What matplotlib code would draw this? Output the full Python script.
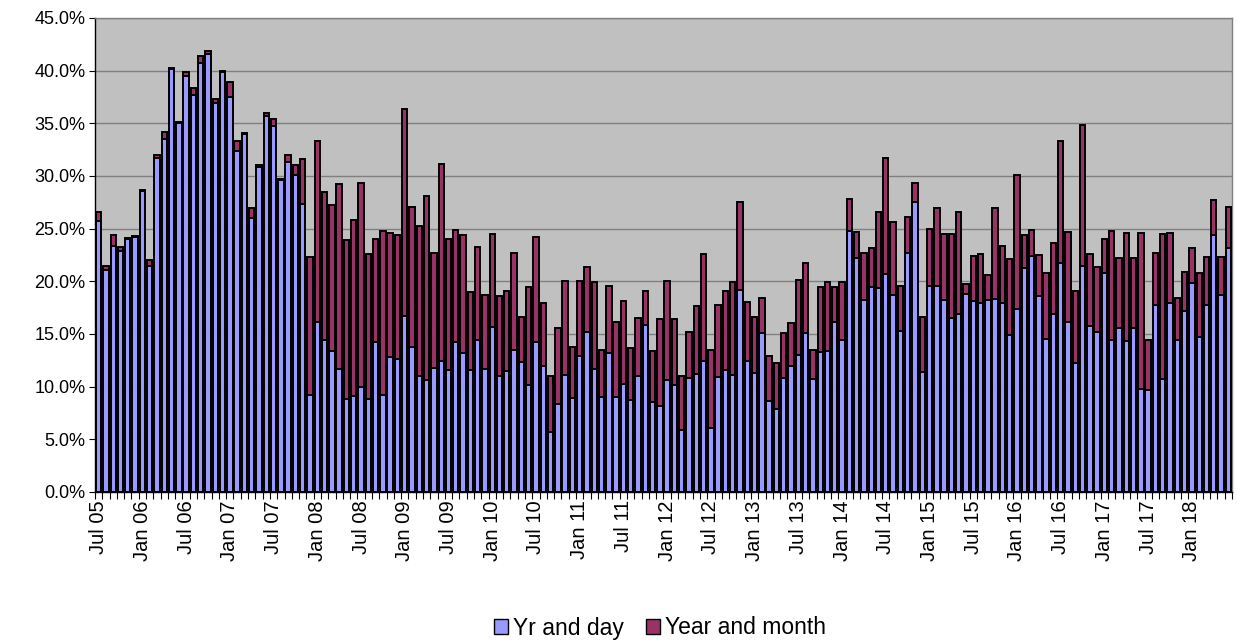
import matplotlib
matplotlib.use("Agg")
import matplotlib.pyplot as plt
from matplotlib.patches import Patch

plt.rcParams['font.family'] = ['Liberation Sans', 'DejaVu Sans']

# Monthly values, Jul 05 .. Jun 18 (percent)
yr_and_day = [
    25.7, 21.1, 23.4, 22.9, 24.0, 24.2, 28.6, 21.5, 31.7, 33.5, 40.2, 35.0,
    39.5, 37.7, 40.7, 41.6, 36.9, 39.9, 37.5, 32.4, 34.0, 26.0, 30.9, 35.7,
    34.7, 29.6, 31.3, 30.1, 27.3, 9.2, 16.1, 14.4, 13.4, 11.7, 8.8, 9.1,
    10.0, 8.8, 14.2, 9.2, 12.8, 12.6, 16.7, 13.8, 11.0, 10.6, 11.8, 12.4,
    11.6, 14.2, 13.2, 11.6, 14.4, 11.7, 15.7, 11.0, 11.5, 13.5, 12.3, 10.2,
    14.2, 12.0, 5.7, 8.4, 11.1, 8.9, 12.9, 15.2, 11.7, 9.0, 13.2, 9.0,
    10.3, 8.7, 11.0, 15.9, 8.5, 8.2, 10.6, 10.2, 5.9, 10.8, 11.2, 12.4,
    6.1, 10.9, 11.6, 11.1, 19.2, 12.4, 11.3, 15.1, 8.6, 7.9, 10.8, 12.0,
    13.0, 15.1, 10.7, 13.3, 13.4, 16.1, 14.4, 24.8, 22.2, 18.2, 19.5, 19.4,
    20.7, 18.7, 15.3, 22.7, 27.5, 11.4, 19.6, 19.6, 18.2, 16.5, 16.9, 18.8,
    18.1, 17.9, 18.2, 18.3, 17.9, 14.9, 17.4, 21.3, 22.4, 18.6, 14.5, 16.9,
    21.7, 16.1, 12.2, 21.5, 15.8, 15.2, 20.8, 14.4, 15.6, 14.3, 15.6, 9.8,
    9.7, 17.8, 10.7, 17.9, 14.4, 17.2, 19.8, 14.7, 17.8, 24.4, 18.7, 23.2,
]
total = [
    26.6, 21.5, 24.4, 23.3, 24.1, 24.3, 28.7, 22.0, 32.0, 34.2, 40.3, 35.1,
    39.9, 38.4, 41.4, 41.9, 37.3, 40.0, 38.9, 33.3, 34.1, 27.0, 31.0, 36.0,
    35.4, 29.7, 32.0, 31.0, 31.6, 22.3, 33.3, 28.5, 27.2, 29.2, 23.9, 25.8,
    29.3, 22.6, 24.0, 24.8, 24.6, 24.4, 36.4, 27.1, 25.3, 28.1, 22.7, 31.1,
    24.0, 24.9, 24.4, 19.0, 23.3, 18.7, 24.5, 18.6, 19.1, 22.7, 16.6, 19.5,
    24.2, 17.9, 11.0, 15.6, 20.0, 13.8, 20.0, 21.4, 19.9, 13.5, 19.6, 16.1,
    18.1, 13.7, 16.5, 19.1, 13.4, 16.4, 20.0, 16.4, 11.0, 15.2, 17.7, 22.6,
    13.5, 17.8, 19.1, 19.9, 27.5, 18.0, 16.6, 18.4, 12.9, 12.2, 15.1, 16.0,
    20.1, 21.7, 13.5, 19.5, 19.9, 19.5, 19.9, 27.8, 24.7, 22.7, 23.2, 26.6,
    31.7, 25.6, 19.6, 26.1, 29.3, 16.6, 25.0, 27.0, 24.5, 24.5, 26.6, 19.7,
    22.4, 22.6, 20.6, 27.0, 23.4, 22.1, 30.1, 24.4, 24.9, 22.5, 20.8, 23.6,
    33.3, 24.7, 19.1, 34.8, 22.6, 21.4, 24.0, 24.8, 22.2, 24.6, 22.2, 24.6,
    14.4, 22.7, 24.5, 24.6, 18.4, 20.9, 23.2, 20.8, 22.3, 27.7, 22.3, 27.1,
]
year_and_month = [round(t - b, 1) for t, b in zip(total, yr_and_day)]

tick_labels = [
    "Jul 05", "Jan 06", "Jul 06", "Jan 07", "Jul 07", "Jan 08", "Jul 08",
    "Jan 09", "Jul 09", "Jan 10", "Jul 10", "Jan 11", "Jul 11", "Jan 12",
    "Jul 12", "Jan 13", "Jul 13", "Jan 14", "Jul 14", "Jan 15", "Jul 15",
    "Jan 16", "Jul 16", "Jan 17", "Jul 17", "Jan 18",
]

BLUE = '#9999FF'
MAROON = '#993366'

W, H = 1238, 643
fig = plt.figure(figsize=(W / 100, H / 100), dpi=100)
ax = fig.add_axes([95 / W, 1 - 492 / H, (1232 - 95) / W, (492 - 18) / H])
ax.set_facecolor('#C0C0C0')

x = list(range(len(yr_and_day)))
ax.bar(x, yr_and_day, width=0.74, color=BLUE, edgecolor='black',
       linewidth=1.4, zorder=3)
ax.bar(x, year_and_month, bottom=yr_and_day, width=0.74, color=MAROON,
       edgecolor='black', linewidth=1.4, zorder=3)

ax.set_xlim(-0.5, len(x) - 0.5)
ax.set_ylim(0, 45)
ax.set_yticks([i * 5 for i in range(10)])
ax.set_yticklabels([f"{i * 5:.1f}%" for i in range(10)], fontsize=13)
ax.yaxis.grid(True, color='#808080', linewidth=1.0, zorder=1)
ax.set_axisbelow(True)

ax.set_xticks([i * 6 for i in range(len(tick_labels))])
ax.set_xticklabels(tick_labels, rotation=90, fontsize=14.5)
ax.set_xticks([i - 0.5 for i in range(len(x) + 1)], minor=True)
ax.tick_params(axis='x', which='major', length=0, pad=6)
ax.tick_params(axis='x', which='minor', length=5, width=0.8, color='black', direction='out')
ax.tick_params(axis='y', length=4, width=0.8, direction='out', pad=3)

for s in ['left', 'bottom']:
    ax.spines[s].set_color('black')
    ax.spines[s].set_linewidth(1.0)
for s in ['top', 'right']:
    ax.spines[s].set_color('#808080')
    ax.spines[s].set_linewidth(1.0)

handles = [Patch(facecolor=BLUE, edgecolor='black', linewidth=1.0, label='Yr and day'),
           Patch(facecolor=MAROON, edgecolor='black', linewidth=1.0, label='Year and month')]
fig.legend(handles=handles, loc='center', bbox_to_anchor=(660 / W, 1 - 628 / H), ncol=2,
           frameon=False, fontsize=16.5, handlelength=0.6, handleheight=0.6,
           handletextpad=0.2, columnspacing=1.0)

fig.savefig('out.png', dpi=100)
